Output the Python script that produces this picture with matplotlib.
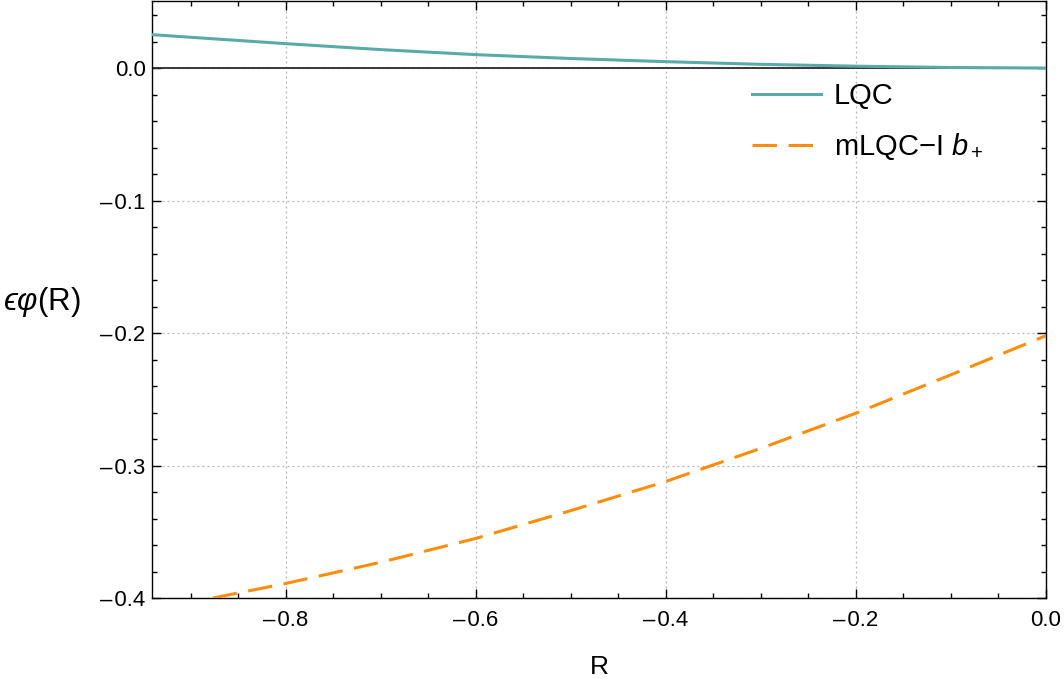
import matplotlib
matplotlib.use('Agg')
import matplotlib.pyplot as plt
from matplotlib.ticker import MultipleLocator, FuncFormatter

plt.rcParams['font.family'] = ['Liberation Sans', 'DejaVu Sans']
plt.rcParams['mathtext.fontset'] = 'custom'
plt.rcParams['mathtext.rm'] = 'Liberation Sans'
plt.rcParams['mathtext.it'] = 'Liberation Sans:italic'
plt.rcParams['mathtext.fallback'] = 'stixsans'

# values
r_lqc = [-0.941, -0.9, -0.8, -0.7, -0.6, -0.5, -0.4, -0.3, -0.2, -0.1, 0.0]
phi_lqc = [0.0252, 0.0232, 0.0184, 0.0139, 0.0101, 0.0072, 0.0048, 0.0028, 0.0014, 0.0004, 0.0]

r_mlqc = [-0.877, -0.8, -0.7, -0.6, -0.5, -0.4, -0.3, -0.2, -0.1, 0.0]
phi_mlqc = [-0.400, -0.389, -0.373, -0.355, -0.334, -0.312, -0.287, -0.2605, -0.2315, -0.202]

teal = '#5aaba8'
orange = '#ff8c0a'


def fmt(v, pos):
    s = '%.1f' % abs(v)
    if v < -1e-9:
        return '\u2013\u200a' + s
    return s


fig = plt.figure(figsize=(10.64, 6.79), dpi=100)
ax = fig.add_axes([152 / 1064, 1 - 598 / 679, (1046 - 152) / 1064, (598 - 1) / 679])

ax.axhline(0, color='#2a2a2a', linewidth=1.3, zorder=2)
ax.plot(r_lqc, phi_lqc, color=teal, linewidth=2.2, label='LQC', zorder=3)
ax.plot(r_mlqc, phi_mlqc, color=orange, linewidth=2.2, dashes=(8, 3.8),
        label='mLQC\u2212I $b_+$', zorder=3)

ax.set_xlim(-0.941, 0.0)
ax.set_ylim(-0.4, 0.0506)

ax.xaxis.set_major_locator(MultipleLocator(0.2))
ax.xaxis.set_minor_locator(MultipleLocator(0.05))
ax.yaxis.set_major_locator(MultipleLocator(0.1))
ax.yaxis.set_minor_locator(MultipleLocator(0.02))
ax.xaxis.set_major_formatter(FuncFormatter(fmt))
ax.yaxis.set_major_formatter(FuncFormatter(fmt))

ax.tick_params(which='both', direction='in', top=True, right=True,
               labelsize=16, color='black', width=1)
ax.tick_params(which='major', length=6.5)
ax.tick_params(which='minor', length=3.5)
ax.tick_params(axis='x', which='major', pad=9)
ax.tick_params(axis='y', which='major', pad=4.5)

ax.grid(True, which='major', color='#b4b4b4', linestyle=(0, (1.5, 2.5)), linewidth=0.9)
for s in ax.spines.values():
    s.set_linewidth(1.0)
    s.set_color('black')

ax.set_xlabel('R', fontsize=19, labelpad=17)
ax.set_ylabel('$\u03f5\\varphi$(R)', fontsize=22.5, rotation=0, va='center', ha='center')
ax.yaxis.set_label_coords(-0.123, 0.496)

ax.legend(loc='upper left', bbox_to_anchor=(752 / 1064, 1 - 82 / 679),
          bbox_transform=fig.transFigure, frameon=False, fontsize=21,
          handlelength=2.35, handletextpad=0.45, labelspacing=0.72,
          borderaxespad=0, borderpad=0)

fig.savefig('out.png', dpi=100)
